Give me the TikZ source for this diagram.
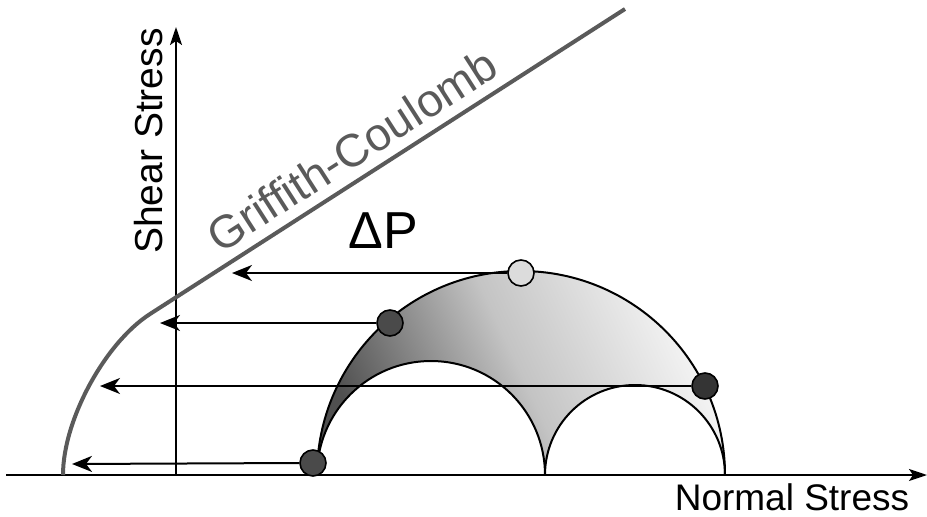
\documentclass[tikz,border=0pt]{standalone}
\usepackage{fontspec}
\setmainfont{Liberation Sans}
\usetikzlibrary{arrows.meta}
\definecolor{gcgray}{HTML}{5A5A5A}
\definecolor{dotdark}{HTML}{4A4A4A}
\definecolor{dotdarker}{HTML}{343434}
\definecolor{dotlight}{HTML}{DCDCDC}
\definecolor{shadeleft}{HTML}{505050}
\definecolor{shademid}{HTML}{C4C4C4}
\definecolor{shaderight}{HTML}{F6F6F6}
\begin{document}
\begin{tikzpicture}[x=1pt,y=-1pt,
  dot/.style={circle,draw=black,line width=1.6pt,minimum size=26pt,inner sep=0pt},
  arr/.style={line width=2pt,-{Stealth[length=20pt,width=16pt,inset=6pt]}},
  axis/.style={line width=2pt,-{Stealth[length=18pt,width=12pt,inset=4pt]}},
  circ/.style={line width=2pt},
  gc/.style={draw=gcgray,line width=4pt,line join=round},
  lbl/.style={inner sep=0pt,font=\fontsize{38}{40}\selectfont}]
\useasboundingbox (0,0) rectangle (927,517);
% shaded lune
\shade[left color=shadeleft,right color=shaderight,middle color=shademid,shading angle=115]
  (317,475) arc[start angle=180,end angle=360,radius=204]
  arc[start angle=0,end angle=-180,radius=90]
  arc[start angle=0,end angle=-180,radius=114] -- cycle;
% circles
\draw[circ] (317,475) arc[start angle=180,end angle=360,radius=204];
\draw[circ] (317,475) arc[start angle=180,end angle=360,radius=114];
\draw[circ] (545,475) arc[start angle=180,end angle=360,radius=90];
% axes
\coordinate (xo) at (6,475);
\coordinate (xe) at (927,475);
\coordinate (yo) at (176,475);
\coordinate (ye) at (176,27);
\draw[axis] (xo) -- (xe);
\draw[axis] (yo) -- (ye);
% arrow tips
\coordinate (t1) at (72,464);
\coordinate (t2) at (160,323);
\coordinate (t3) at (232,273);
\coordinate (t4) at (100,386);
% dots
\node[dot,fill=dotdark] (d1) at (313,463) {};
\node[dot,fill=dotdark] (d2) at (390,323) {};
\node[dot,fill=dotlight] (d3) at (521,273) {};
\node[dot,fill=dotdarker] (d4) at (705,386) {};
\draw[arr] (d1.west) -- (t1);
\draw[arr] (d2.west) -- (t2);
\draw[arr] (d3.west) -- (t3);
\draw[arr] (d4.west) -- (t4);
% Griffith-Coulomb envelope
\draw[gc] (63,475) .. controls (63,420) and (105,343) .. (150,314) -- (625,9);
% labels
\node[lbl,text=gcgray,rotate=32.7,font=\fontsize{46}{48}\selectfont] (gct) at (352,150) {Griffith-Coulomb};
\node[lbl,rotate=90,font=\fontsize{39}{42}\selectfont] (sst) at (149,141) {Shear Stress};
\node[lbl,font=\fontsize{37}{40}\selectfont] (nst) at (792,497) {Normal Stress};
\node[lbl,font=\fontsize{52}{56}\selectfont] (dp) at (383,231) {ΔP};
\end{tikzpicture}
\end{document}
